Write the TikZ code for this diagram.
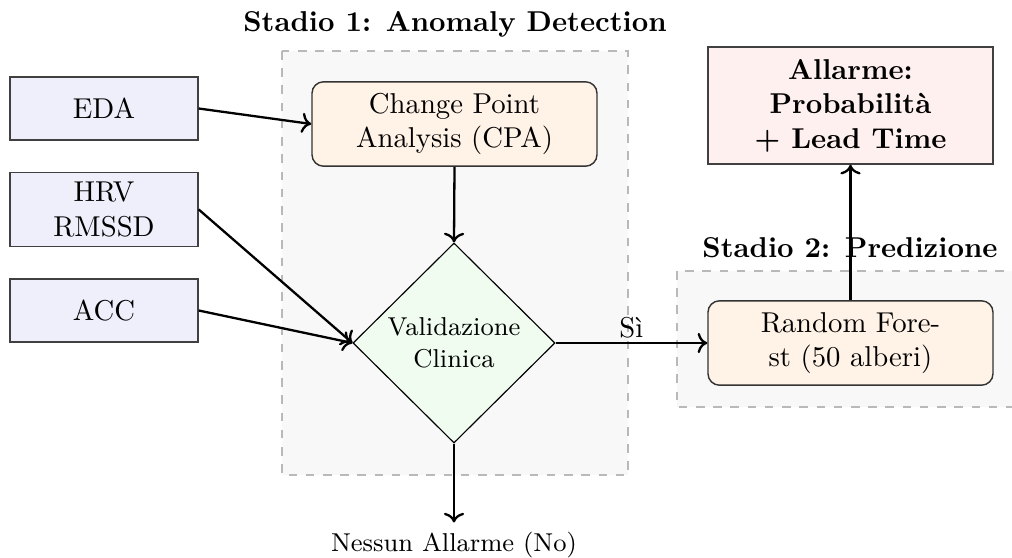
\documentclass[tikz,border=0pt]{standalone}
\usetikzlibrary{shapes.geometric,arrows.meta}
\definecolor{infill}{RGB}{239,239,252}
\definecolor{procfill}{RGB}{255,242,230}
\definecolor{decfill}{RGB}{240,252,240}
\definecolor{alfill}{RGB}{255,240,240}
\definecolor{stagefill}{RGB}{248,248,248}
\tikzset{
  inbox/.style={draw=black!75, fill=infill, line width=0.5pt, minimum width=65.5pt, minimum height=22pt, align=center},
  procbox/.style={draw=black!80, fill=procfill, line width=0.5pt, rounded corners=4pt, minimum width=99.3pt, minimum height=29.4pt, align=center},
  decbox/.style={diamond, draw=black, fill=decfill, line width=0.4pt, inner sep=0pt, minimum width=70.4pt, minimum height=69.7pt, align=center, font=\small},
  alarmbox/.style={draw=black!75, fill=alfill, line width=0.5pt, minimum width=99.3pt, minimum height=40.8pt, align=center, font=\bfseries},
  stagebg/.style={draw=gray!55, fill=stagefill, dashed, line width=0.5pt},
  stagetitle/.style={anchor=base, font=\bfseries},
  flow/.style={->, thick},
}
\begin{document}
\begin{tikzpicture}[x=0.3484pt, y=-0.3484pt]
\useasboundingbox (0,0) rectangle (1012,558);
% stages
\path[stagebg] (282,51) rectangle (628,475);
\path[stagebg] (677,271) rectangle (1023,407);
\node[stagetitle] (t1) at (455,32) {Stadio 1: Anomaly Detection};
\node[stagetitle] (t2) at (850,258) {Stadio 2: Predizione};
% inputs
\node[inbox] (eda) at (104,108.5) {EDA};
\node[inbox] (hrv) at (104,209.5) {HRV\\RMSSD};
\node[inbox] (acc) at (104,310.5) {ACC};
% stage 1
\node[procbox] (cpa) at (454.5,124) {Change Point\\Analysis (CPA)};
\node[decbox] (val) at (454,343) {Validazione\\Clinica};
% stage 2
\node[procbox] (rf) at (850.5,343) {Random Fore-\\st (50 alberi)};
\node[alarmbox] (al) at (850.5,105.5) {Allarme:\\Probabilità\\+ Lead Time};
% no alarm
\node[anchor=base, font=\small] (no) at (454,552) {Nessun Allarme (No)};
% connectors
\draw[flow] (eda.east) -- (cpa.west);
\draw[flow] (hrv.east) -- (val.west);
\draw[flow] (acc.east) -- (val.west);
\draw[flow] (cpa.south) -- (val.north);
\draw[flow] (val.east) -- node[above, pos=0.5, yshift=-2pt] {Sì} (rf.west);
\draw[flow] (val.south) -- (no.north);
\draw[flow] (rf.north) -- (al.south);
\end{tikzpicture}
\end{document}
